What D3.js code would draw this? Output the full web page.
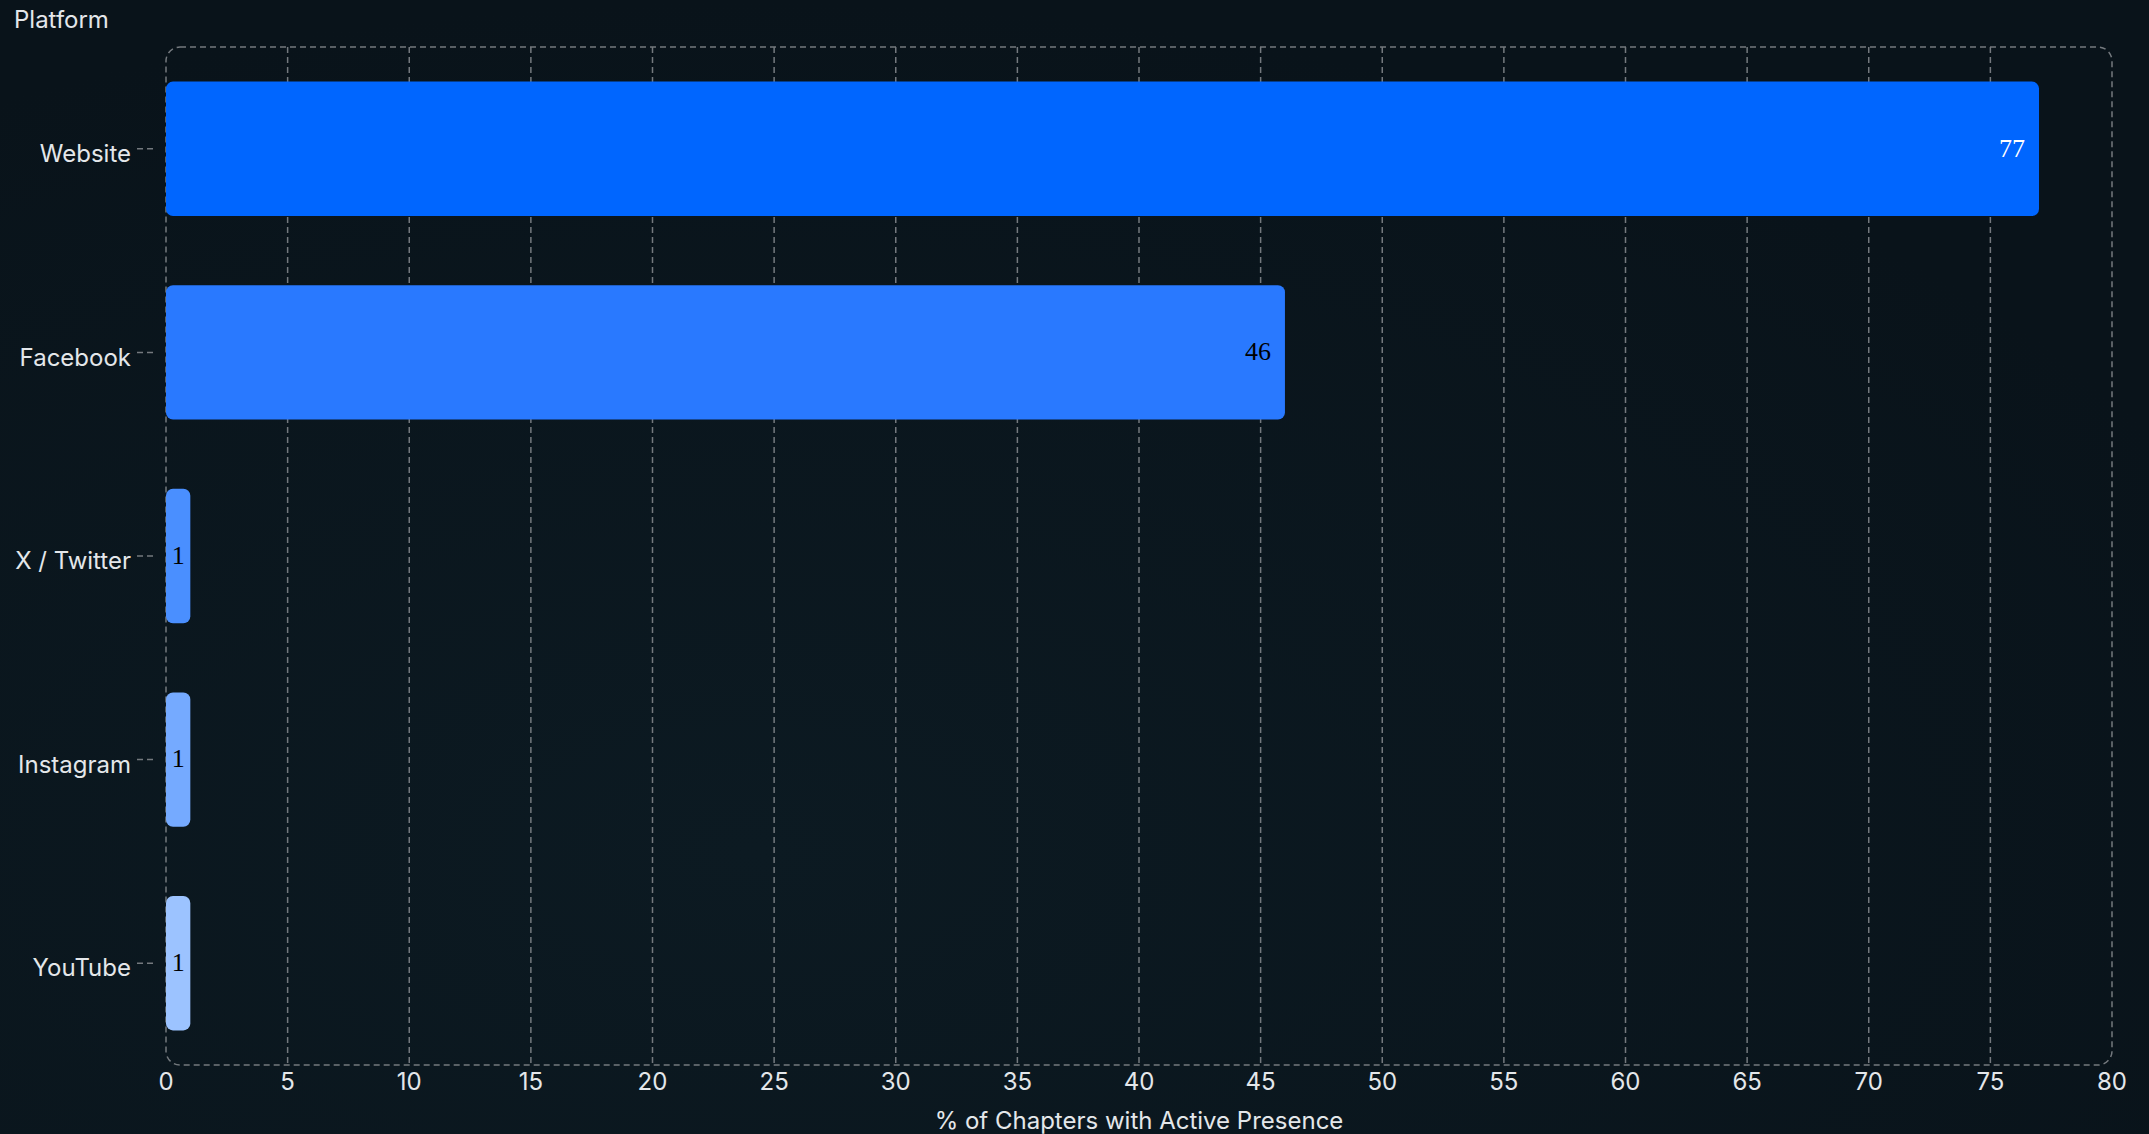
<!DOCTYPE html>
<html lang="en">
<head>
<meta charset="utf-8">
<title>Platform presence</title>
<script src="https://d3js.org/d3.v7.min.js"></script>
<style>
  html, body { margin: 0; padding: 0; background: #0a141a; overflow: hidden; }
  svg { display: block; }
</style>
</head>
<body>
<script>
// data
var platforms = ["Website", "Facebook", "X / Twitter", "Instagram", "YouTube"];
var values = [77, 46, 1, 1, 1];
var xTicks = d3.range(0, 81, 5);
var palette = ["#0066ff", "#2979ff", "#4a8fff", "#75aaff", "#9cc3ff"];

var width = 2149, height = 1134;
var margin = {top: 47, right: 37, bottom: 69, left: 166};
var innerW = width - margin.left - margin.right;
var innerH = height - margin.top - margin.bottom;

var svg = d3.select("body").append("svg")
    .attr("width", width)
    .attr("height", height);

// background with a faint glow
var defs = svg.append("defs");
var grad = defs.append("radialGradient")
    .attr("id", "bg").attr("cx", "35%").attr("cy", "75%").attr("r", "75%");
grad.append("stop").attr("offset", "0%").attr("stop-color", "#0c1a22");
grad.append("stop").attr("offset", "100%").attr("stop-color", "#09131a");
svg.append("rect").attr("width", width).attr("height", height).attr("fill", "url(#bg)");

var x = d3.scaleLinear().domain([0, 80]).range([0, innerW]);
var y = d3.scaleBand().domain(platforms).range([0, innerH])
    .paddingInner(0.34).paddingOuter(0.17);
var color = d3.scaleOrdinal().domain(platforms).range(palette);

var g = svg.append("g")
    .attr("transform", "translate(" + margin.left + "," + margin.top + ")");

var font = "Inter, 'Noto Sans', sans-serif";
var textColor = "#e4e7ea";
var lineColor = "#74797e";

// vertical dashed gridlines
g.append("g").selectAll("line")
    .data(xTicks.filter(function(d) { return d > 0 && d < 80; }))
    .join("line")
    .attr("x1", function(d) { return x(d); })
    .attr("x2", function(d) { return x(d); })
    .attr("y1", 0).attr("y2", innerH)
    .attr("stroke", lineColor)
    .attr("stroke-width", 1.5)
    .attr("stroke-dasharray", "6,4");

// dashed rounded frame
g.append("rect")
    .attr("x", 0).attr("y", 0)
    .attr("width", innerW).attr("height", innerH)
    .attr("rx", 14).attr("ry", 14)
    .attr("fill", "none")
    .attr("stroke", lineColor)
    .attr("stroke-width", 1.5)
    .attr("stroke-dasharray", "6,4");

// bars
var rows = platforms.map(function(p, i) { return {name: p, value: values[i]}; });

g.append("g").selectAll("rect")
    .data(rows)
    .join("rect")
    .attr("x", x(0))
    .attr("y", function(d) { return y(d.name); })
    .attr("width", function(d) { return x(d.value) - x(0); })
    .attr("height", y.bandwidth())
    .attr("rx", 7).attr("ry", 7)
    .attr("fill", function(d) { return color(d.name); });

// value labels
g.append("g").selectAll("text")
    .data(rows)
    .join("text")
    .attr("x", function(d) {
        var w = x(d.value) - x(0);
        return w > 60 ? x(d.value) - 14 : x(0) + w / 2;
    })
    .attr("y", function(d) { return y(d.name) + y.bandwidth() / 2; })
    .attr("dy", "0.3em")
    .attr("text-anchor", function(d) { return x(d.value) - x(0) > 60 ? "end" : "middle"; })
    .attr("font-family", "'Liberation Serif', serif")
    .attr("font-size", 26)
    .attr("fill", function(d) { return d3.hsl(color(d.name)).l > 0.55 ? "#000" : "#fff"; })
    .text(function(d) { return d.value; });

// y axis: dashed tick stubs and labels
var yAxis = g.append("g");
yAxis.selectAll("line")
    .data(platforms)
    .join("line")
    .attr("x1", -29).attr("x2", -13)
    .attr("y1", function(d) { return y(d) + y.bandwidth() / 2; })
    .attr("y2", function(d) { return y(d) + y.bandwidth() / 2; })
    .attr("stroke", lineColor)
    .attr("stroke-width", 1.5)
    .attr("stroke-dasharray", "6,4");
yAxis.selectAll("text")
    .data(platforms)
    .join("text")
    .attr("x", -35)
    .attr("y", function(d) { return y(d) + y.bandwidth() / 2; })
    .attr("dy", "0.55em")
    .attr("text-anchor", "end")
    .attr("font-family", font)
    .attr("font-size", 24)
    .attr("fill", textColor)
    .text(function(d) { return d; });

// x axis labels
g.append("g").selectAll("text")
    .data(xTicks)
    .join("text")
    .attr("x", function(d) { return x(d); })
    .attr("y", innerH + 25)
    .attr("text-anchor", "middle")
    .attr("font-family", font)
    .attr("font-size", 24)
    .attr("fill", textColor)
    .text(function(d) { return d; });

// axis titles
svg.append("text")
    .attr("x", margin.left + innerW / 2)
    .attr("y", 1129)
    .attr("text-anchor", "middle")
    .attr("font-family", font)
    .attr("font-size", 24)
    .attr("fill", textColor)
    .text("% of Chapters with Active Presence");

svg.append("text")
    .attr("x", 14)
    .attr("y", 28)
    .attr("font-family", font)
    .attr("font-size", 24)
    .attr("fill", textColor)
    .text("Platform");
</script>
</body>
</html>
